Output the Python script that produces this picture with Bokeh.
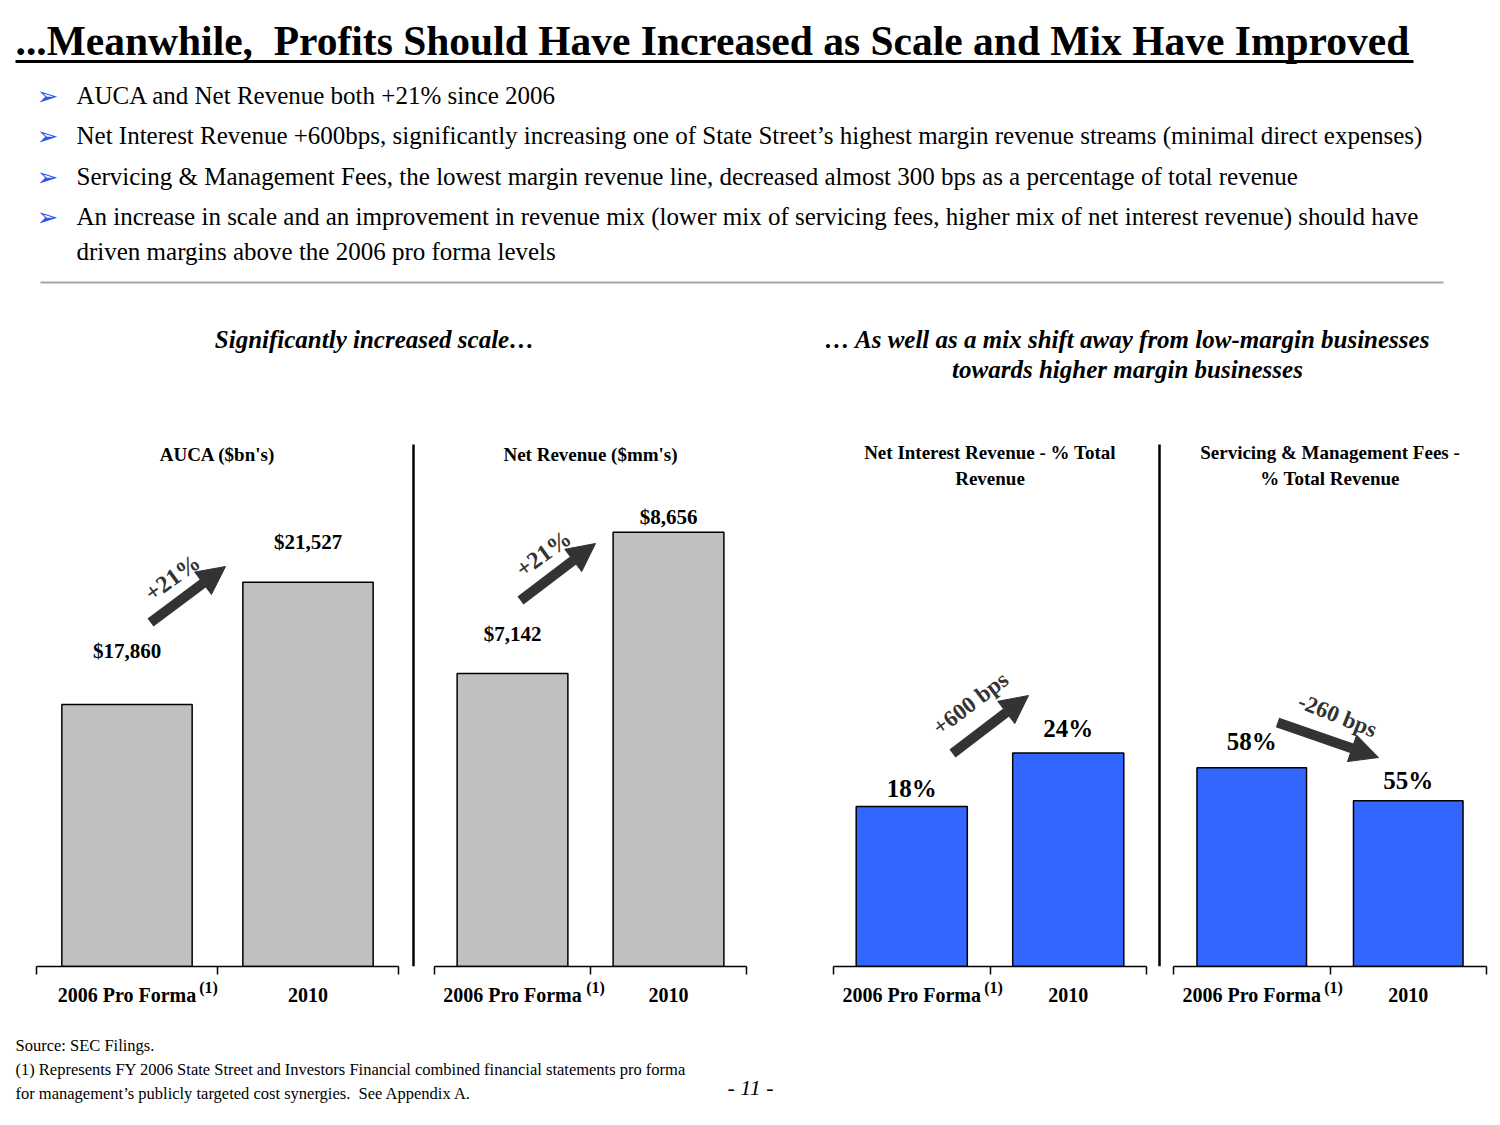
from bokeh.plotting import figure
from bokeh.layouts import column, row
from bokeh.models import Range1d, LinearAxis, FixedTicker, Arrow, NormalHead, ColumnDataSource
from bokeh.core.properties import value
from bokeh.embed import file_html
from bokeh.resources import INLINE

# ---------------- data ----------------
categories = ["2006 Pro Forma", "2010"]
footnote_mark = "(1)"
auca = [17860, 21527]
net_revenue = [7142, 8656]
nir_pct = [18, 24]
smf_pct = [58, 55]
change_labels = ["+21%", "+21%", "+600 bps", "-260 bps"]
chart_titles = [
    ["AUCA ($bn's)"],
    ["Net Revenue ($mm's)"],
    ["Net Interest Revenue - % Total", "Revenue"],
    ["Servicing & Management Fees -", "% Total Revenue"],
]
slide_title = "...Meanwhile,\u00a0 Profits Should Have Increased as Scale and Mix Have Improved"
bullet_lines = [
    "AUCA and Net Revenue both +21% since 2006",
    "Net Interest Revenue +600bps, significantly increasing one of State Street\u2019s highest margin revenue streams (minimal direct expenses)",
    "Servicing & Management Fees, the lowest margin revenue line, decreased almost 300 bps as a percentage of total revenue",
    "An increase in scale and an improvement in revenue mix (lower mix of servicing fees, higher mix of net interest revenue) should have",
    "driven margins above the 2006 pro forma levels",
]
subtitle_left = "Significantly increased scale\u2026"
subtitle_right = ["\u2026 As well as a mix shift away from low-margin businesses", "towards higher margin businesses"]
footnotes = [
    "Source: SEC Filings.",
    "(1) Represents FY 2006 State Street and Investors Financial combined financial statements pro forma",
    "for management\u2019s publicly targeted cost synergies.\u00a0 See Appendix A.",
]
page_number = "- 11 -"

SERIF = value("Liberation Serif")
DARK = "#333333"
GRAY = "#C0C0C0"
BLUE = "#3366FF"
TOTAL_W = 1492

def blank(w, h, xr, yr, **kw):
    p = figure(width=w, height=h, x_range=Range1d(*xr), y_range=Range1d(*yr),
               x_axis_type=None, y_axis_type=None, toolbar_location=None,
               output_backend="svg", outline_line_color=None, **kw)
    p.xgrid.visible = False
    p.ygrid.visible = False
    return p

# ---------------- top header ----------------
top = blank(TOTAL_W, 428, (0, TOTAL_W), (428, 0), min_border=0)
top.text(x=[15], y=[40], text=[slide_title], text_font=SERIF, text_font_style="bold",
         text_font_size="41.5px", text_baseline="middle", text_color="black")
top.line(x=[15, 1413], y=[61, 61], line_width=3, line_color="black")
by = [95, 135, 176, 216, 251]
top.text(x=[47] * 4, y=by[:4], text=["\u27a2"] * 4, text_font=value("DejaVu Sans"),
         text_font_size="26px", text_align="center", text_baseline="middle", text_color="#2F55EE")
top.text(x=[76] * 5, y=by, text=bullet_lines, text_font=SERIF, text_font_size="25px",
         text_baseline="middle", text_color="black")
top.line(x=[40, 1443], y=[282, 282], line_width=2, line_color="#A6A6A6")
top.text(x=[374, 1127, 1127], y=[339, 339, 369], text=[subtitle_left] + subtitle_right,
         text_font=SERIF, text_font_style="bold italic", text_font_size="25px",
         text_align="center", text_baseline="middle", text_color="black")

# ---------------- bar charts ----------------
H = 602
FRAME_TOP, FRAME_BOT = 428, 966
BORDER_BOT = FRAME_TOP + H - FRAME_BOT

def bar_chart(vals, labels, titles, color, y0, y1, fig_x0, fig_w, bl, br, bar_w,
              gaps, arrow_px, change, change_px, change_angle, change_size, sup_px):
    fl = fig_x0 + bl
    fw = fig_w - bl - br
    X = lambda px: (px - fl) * 2.0 / fw
    Y = lambda py: y0 + (FRAME_BOT - py) * (y1 - y0) / (FRAME_BOT - FRAME_TOP)
    p = figure(width=fig_w, height=H, x_range=Range1d(0, 2), y_range=Range1d(y0, y1),
               x_axis_type=None, y_axis_type=None, toolbar_location=None,
               output_backend="svg", min_border_left=bl, min_border_right=br,
               min_border_top=0, min_border_bottom=BORDER_BOT,
               outline_line_color=None)
    p.xgrid.visible = False
    p.ygrid.visible = False
    src = ColumnDataSource(dict(x=[0.5, 1.5], top=vals, label=labels,
                                off=[-g for g in gaps]))
    p.vbar(x="x", top="top", bottom=y0, width=bar_w, source=src, fill_color=color,
           line_color="black", line_width=1.5)
    p.text(x="x", y="top", text="label", y_offset="off", source=src, text_font=SERIF,
           text_font_style="bold", text_font_size=("21px" if "$" in labels[0] else "25px"),
           text_align="center", text_baseline="middle", text_color="black")
    ty = [454] if len(titles) == 1 else [452, 478]
    p.text(x=[1] * len(titles), y=[Y(t) for t in ty], text=titles, text_font=SERIF,
           text_font_style="bold", text_font_size="19px", text_align="center",
           text_baseline="middle", text_color="black")

    # axis 1: baseline, boundary ticks and the footnote marker
    sup_tick = round(X(sup_px), 4)
    ax1 = LinearAxis(ticker=FixedTicker(ticks=[sup_tick], minor_ticks=[0, 1, 2]),
                     major_label_overrides={sup_tick: footnote_mark})
    ax1.major_tick_line_color = None
    ax1.major_tick_in = 0
    ax1.major_tick_out = 0
    ax1.minor_tick_in = 0
    ax1.minor_tick_out = 8
    ax1.minor_tick_line_color = "black"
    ax1.minor_tick_line_width = 1.5
    ax1.axis_line_width = 1.5
    ax1.axis_line_color = "black"
    ax1.major_label_text_font = "Liberation Serif"
    ax1.major_label_text_font_style = "bold"
    ax1.major_label_text_font_size = "16px"
    ax1.major_label_text_color = "black"
    ax1.major_label_standoff = 4
    p.add_layout(ax1, "below")

    # axis 2: category labels
    ax2 = LinearAxis(ticker=FixedTicker(ticks=[0.5, 1.5], minor_ticks=[]),
                     major_label_overrides={0.5: categories[0], 1.5: categories[1]})
    ax2.axis_line_color = None
    ax2.major_tick_line_color = None
    ax2.minor_tick_line_color = None
    ax2.major_tick_in = 0
    ax2.major_tick_out = 0
    ax2.minor_tick_in = 0
    ax2.minor_tick_out = 0
    ax2.major_label_text_font = "Liberation Serif"
    ax2.major_label_text_font_style = "bold"
    ax2.major_label_text_font_size = "20px"
    ax2.major_label_text_color = "black"
    ax2.major_label_standoff = -15
    p.add_layout(ax2, "below")

    p.add_layout(Arrow(x_start=X(arrow_px[0]), y_start=Y(arrow_px[1]),
                       x_end=X(arrow_px[2]), y_end=Y(arrow_px[3]),
                       line_width=10, line_color=DARK,
                       end=NormalHead(size=28, fill_color=DARK, line_color=DARK)))
    p.text(x=[X(change_px[0])], y=[Y(change_px[1])], text=[change], angle=change_angle,
           text_font=SERIF, text_font_style="bold", text_font_size=change_size,
           text_align="center", text_baseline="middle", text_color=DARK)
    return p

def fmt_dollar(v):
    return "${:,}".format(v)

def fmt_pct(v):
    return "{}%".format(v)

c1 = bar_chart(auca, [fmt_dollar(v) for v in auca], chart_titles[0], GRAY, 10000, 26140,
               0, 406, 36, 8, 0.72, [54, 40], (150, 622, 225, 566), change_labels[0],
               (172, 577), 0.63, "24px", 208)
c2 = bar_chart(net_revenue, [fmt_dollar(v) for v in net_revenue], chart_titles[1], GRAY,
               4000, 9767, 420, 340, 14, 14, 0.71, [39, 15], (520, 600, 595, 543),
               change_labels[1], (543, 553), 0.63, "24px", 595)
c3 = bar_chart(nir_pct, [fmt_pct(v) for v in nir_pct], chart_titles[2], BLUE, 0, 60.5,
               760, 392, 73, 6, 0.71, [18, 25], (952, 753, 1028, 695), change_labels[2],
               (970, 703), 0.65, "23px", 993)
c4 = bar_chart(smf_pct, [fmt_pct(v) for v in smf_pct], chart_titles[3], BLUE, 40, 88.7,
               1166, 326, 7, 6, 0.70, [26, 20], (1277, 722, 1378, 757), change_labels[3],
               (1337, 715), -0.38, "23px", 1333)

def separator(x0, w, xl):
    s = blank(w, H, (x0, x0 + w), (FRAME_BOT, FRAME_TOP), min_border_left=0,
              min_border_right=0, min_border_top=0, min_border_bottom=BORDER_BOT)
    s.line(x=[xl, xl], y=[444, FRAME_BOT], line_width=2.5, line_color="black")
    return s

s1 = separator(406, 14, 413)
s2 = separator(1152, 14, 1159)

mid = row(c1, s1, c2, c3, s2, c4)

# ---------------- footer ----------------
bot = blank(TOTAL_W, 87, (0, TOTAL_W), (1117, 1030), min_border=0)
bot.text(x=[15] * 3, y=[1045, 1069, 1093], text=footnotes, text_font=SERIF,
         text_font_size="16.5px", text_baseline="middle", text_color="black")
bot.text(x=[750], y=[1087], text=[page_number], text_font=SERIF, text_font_style="italic",
         text_font_size="22px", text_align="center", text_baseline="middle", text_color="black")

layout = column(top, mid, bot)
open("out.html", "w").write(file_html(layout, INLINE))
